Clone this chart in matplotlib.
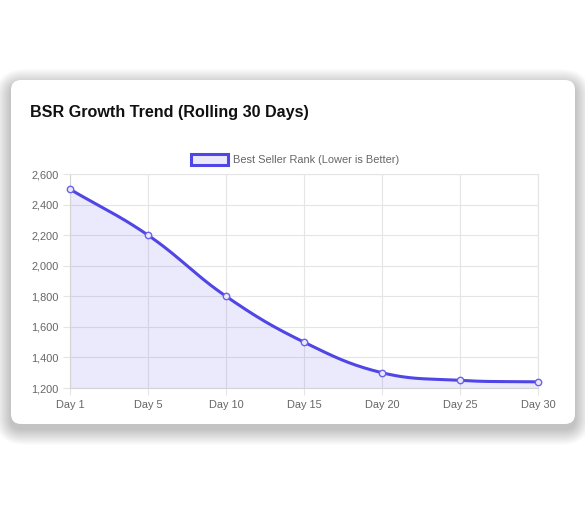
import matplotlib
matplotlib.use("Agg")
import matplotlib.pyplot as plt
from matplotlib.patches import FancyBboxPatch
from matplotlib.transforms import IdentityTransform
from matplotlib.ticker import FuncFormatter
import numpy as np

days = ["Day 1", "Day 5", "Day 10", "Day 15", "Day 20", "Day 25", "Day 30"]
bsr = [2500, 2200, 1800, 1500, 1300, 1250, 1240]
y_ticks = [1200, 1400, 1600, 1800, 2000, 2200, 2400, 2600]

line_color = "#4f46e5"
fill_color = (79 / 255, 70 / 255, 229 / 255, 0.11)
grid_color = "#e5e5e5"
text_gray = "#666666"

plt.rcParams['font.family'] = ['Liberation Sans', 'DejaVu Sans']

W, H = 585, 505
fig = plt.figure(figsize=(W / 100, H / 100), dpi=100)
fig.patch.set_facecolor("white")

# card + soft shadow (pixel coords, origin bottom-left)
cx0, cy0, cx1, cy1 = 11, 81, 575, 425
for k in range(20, 0, -1):
    sh = FancyBboxPatch((cx0 - k * 0.8, cy0 - 5 - k * 0.8), (cx1 - cx0) + k * 1.6, (cy1 - cy0) + k * 1.6,
                        boxstyle="round,pad=0,rounding_size=%f" % (10 + k), transform=IdentityTransform(),
                        facecolor="black", edgecolor="none", alpha=0.011, zorder=0)
    fig.patches.append(sh)
card = FancyBboxPatch((cx0, cy0), cx1 - cx0, cy1 - cy0, boxstyle="round,pad=0,rounding_size=10",
                      transform=IdentityTransform(), facecolor="white", edgecolor="none", zorder=1)
fig.patches.append(card)

fig.text(30 / W, 1 - 112 / H, "BSR Growth Trend (Rolling 30 Days)", fontsize=11.6, fontweight="bold",
         color="#111111", ha="left", va="center")

ax = fig.add_axes([70 / W, 1 - 388 / H, 468 / W, 214 / H])
ax.set_facecolor("none")
ax.set_zorder(2)
ax.set_xlim(0, len(days) - 1)
ax.set_ylim(y_ticks[0], y_ticks[-1])

# Chart.js-like bezier smoothing (tension 0.4) in pixel space
ax_w, ax_h = 468, 214
sx = ax_w / (len(days) - 1)
sy = ax_h / (y_ticks[-1] - y_ticks[0])
px = np.arange(len(bsr)) * sx
py = (np.array(bsr) - y_ticks[0]) * sy
n = len(bsr)
cp_prev = []
cp_next = []
t = 0.4
for i in range(n):
    p0 = np.array([px[max(i - 1, 0)], py[max(i - 1, 0)]])
    p1 = np.array([px[i], py[i]])
    p2 = np.array([px[min(i + 1, n - 1)], py[min(i + 1, n - 1)]])
    d01 = np.hypot(*(p1 - p0))
    d12 = np.hypot(*(p2 - p1))
    s01 = d01 / (d01 + d12) if d01 + d12 else 0
    s12 = d12 / (d01 + d12) if d01 + d12 else 0
    cp_prev.append(p1 - t * s01 * (p2 - p0))
    cp_next.append(p1 + t * s12 * (p2 - p0))
cx, cy = [], []
u = np.linspace(0, 1, 40)
for i in range(n - 1):
    a = np.array([px[i], py[i]])
    b = cp_next[i]
    c = cp_prev[i + 1]
    d = np.array([px[i + 1], py[i + 1]])
    pts = ((1 - u) ** 3)[:, None] * a + (3 * (1 - u) ** 2 * u)[:, None] * b \
        + (3 * (1 - u) * u ** 2)[:, None] * c + (u ** 3)[:, None] * d
    cx.extend(pts[:, 0])
    cy.extend(pts[:, 1])
cx = np.array(cx) / sx
cy = np.array(cy) / sy + y_ticks[0]

ax.fill_between(cx, cy, y_ticks[0], color=fill_color, linewidth=0, zorder=2)
ax.plot(cx, cy, color=line_color, linewidth=2.2, zorder=3, solid_capstyle="round")
ax.plot(range(n), bsr, linestyle="none", marker="o", markersize=4.6, markerfacecolor=(0.92, 0.91, 0.99),
        markeredgecolor="#6a62ea", markeredgewidth=1.0, zorder=4, clip_on=False)

ax.set_xticks(range(n))
ax.set_xticklabels(days)
ax.set_yticks(y_ticks)
ax.yaxis.set_major_formatter(FuncFormatter(lambda v, p: f"{int(v):,}"))
ax.grid(True, color=grid_color, linewidth=0.8)
ax.set_axisbelow(True)
for s in ax.spines.values():
    s.set_color(grid_color)
    s.set_linewidth(0.8)
ax.spines["left"].set_color("#d4d4d4")
ax.spines["bottom"].set_color("#d4d4d4")
ax.tick_params(axis="both", colors=grid_color, labelcolor=text_gray, labelsize=7.9, length=5, width=0.8)
ax.tick_params(axis="x", pad=4)
ax.tick_params(axis="y", pad=3)

# legend
leg_box = FancyBboxPatch((191, H - 165), 37, 11, boxstyle="square,pad=0", transform=IdentityTransform(),
                         facecolor=(0.92, 0.91, 0.99), edgecolor=line_color, linewidth=2.2, zorder=3)
fig.patches.append(leg_box)
fig.text(233 / W, 1 - 159.5 / H, "Best Seller Rank (Lower is Better)", fontsize=7.9, color=text_gray,
         ha="left", va="center")

fig.savefig("out.png", dpi=100, facecolor="white")
